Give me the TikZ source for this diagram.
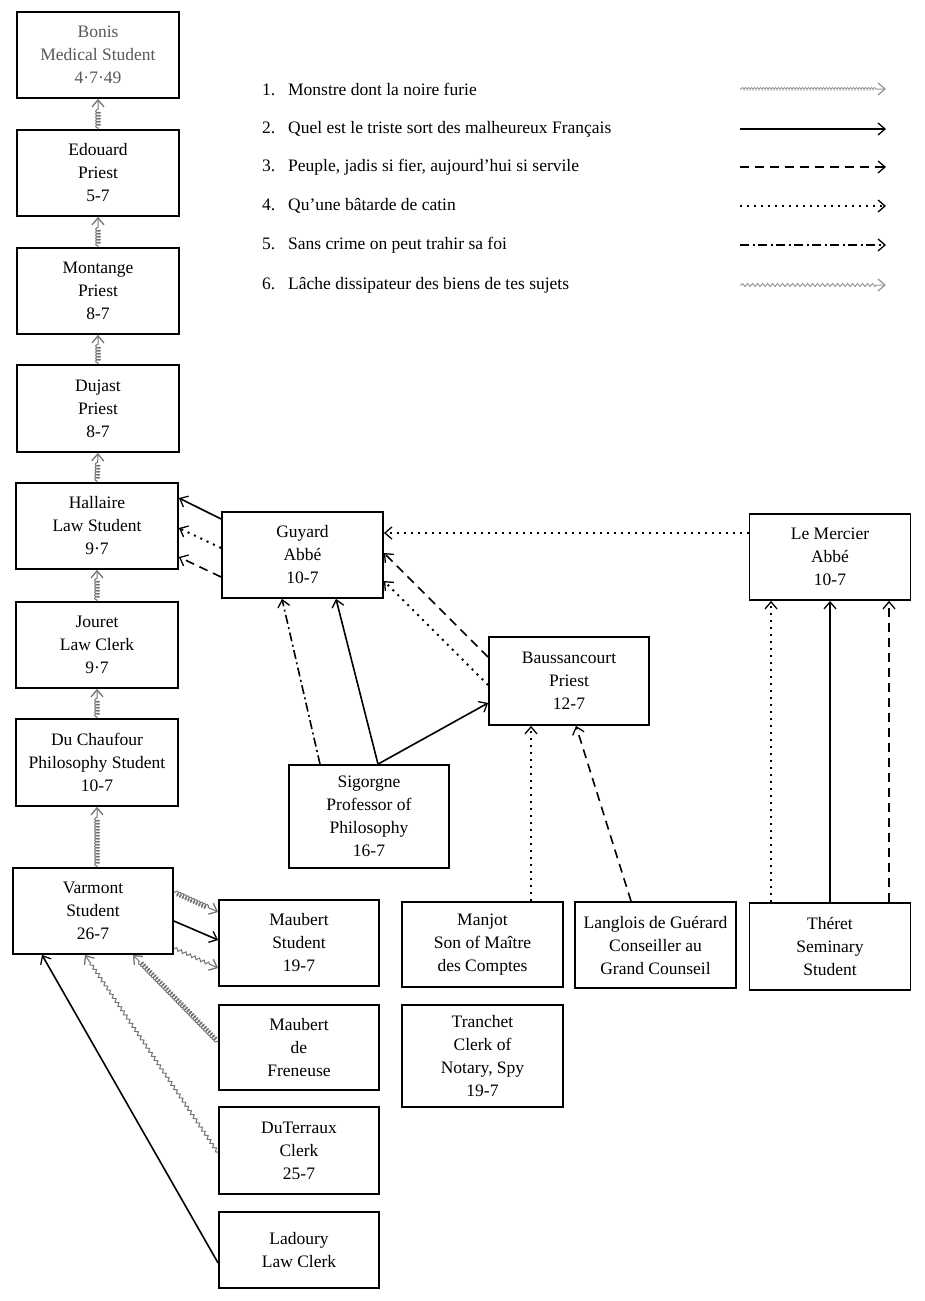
\documentclass[tikz,border=0pt]{standalone}
\usepackage{fontspec}
\setmainfont{Liberation Serif}
\usetikzlibrary{arrows.meta,decorations.pathmorphing,calc}
\begin{document}
\begin{tikzpicture}[x=1pt,y=-1pt,
  box/.style={draw, line width=1.8pt, align=center, inner sep=0pt, font=\fontsize{17.5}{23}\selectfont},
  tip/.style={-{Straight Barb[length=7pt,width=12pt,line width=1.3pt]}},
  t1/.style={draw=black!55, line width=1pt, tip, decorate,
     decoration={coil, aspect=0.5, amplitude=2.3pt, segment length=3pt, pre length=1pt, post length=8pt}},
  t2/.style={draw, line width=1.6pt, tip},
  t3/.style={draw, line width=1.6pt, tip, dash pattern=on 9pt off 6pt},
  t4/.style={draw, line width=2pt, tip, dash pattern=on 2pt off 5pt},
  t5/.style={draw, line width=1.6pt, tip, dash pattern=on 9pt off 3.5pt on 2pt off 3.5pt},
  t6/.style={draw=black!55, line width=1pt, tip, decorate,
     decoration={snake, amplitude=1.5pt, segment length=5pt, pre length=1pt, post length=8pt}},
  leg/.style={anchor=west, inner sep=0pt, font=\fontsize{17.5}{20}\selectfont}
]
\useasboundingbox[fill=white] (0,0) rectangle (924,1301);

% left column
\node[box, minimum width=162, minimum height=86, text=black!65] (bonis) at (98,55) {Bonis\\Medical Student\\4·7·49};
\node[box, minimum width=162, minimum height=86] (edouard) at (98,173) {Edouard\\Priest\\5-7};
\node[box, minimum width=162, minimum height=86] (montange) at (98,291) {Montange\\Priest\\8-7};
\node[box, minimum width=162, minimum height=87] (dujast) at (98,408.5) {Dujast\\Priest\\8-7};
\node[box, minimum width=162, minimum height=86] (hallaire) at (97,526) {Hallaire\\Law Student\\9·7};
\node[box, minimum width=162, minimum height=86] (jouret) at (97,645) {Jouret\\Law Clerk\\9·7};
\node[box, minimum width=162, minimum height=87] (chaufour) at (97,762.5) {Du Chaufour\\Philosophy Student\\10-7};
\node[box, minimum width=160, minimum height=86] (varmont) at (93,911) {Varmont\\Student\\26-7};

% middle
\node[box, minimum width=161, minimum height=86] (guyard) at (302.5,555) {Guyard\\Abbé\\10-7};
\node[box, minimum width=161, minimum height=86] (lemercier) at (830,557) {Le Mercier\\Abbé\\10-7};
\node[box, minimum width=160, minimum height=88] (bauss) at (569,681) {Baussancourt\\Priest\\12-7};
\node[box, minimum width=160, minimum height=103] (sig) at (369,816.5) {Sigorgne\\Professor of\\Philosophy\\16-7};

\node[box, minimum width=160, minimum height=86] (maubert) at (299,943) {Maubert\\Student\\19-7};
\node[box, minimum width=160, minimum height=85] (freneuse) at (299,1047.5) {Maubert\\de\\Freneuse};
\node[box, minimum width=160, minimum height=87] (duterraux) at (299,1150.5) {DuTerraux\\Clerk\\25-7};
\node[box, minimum width=160, minimum height=76] (ladoury) at (299,1250) {Ladoury\\Law Clerk};

\node[box, minimum width=161, minimum height=85] (manjot) at (482.5,944.5) {Manjot\\Son of Maître\\des Comptes};
\node[box, minimum width=161, minimum height=86] (langlois) at (655.5,945) {Langlois de Guérard\\Conseiller au\\Grand Counseil};
\node[box, minimum width=161, minimum height=87] (theret) at (830,946.5) {Théret\\Seminary\\Student};
\node[box, minimum width=161, minimum height=102] (tranchet) at (482.5,1056) {Tranchet\\Clerk of\\Notary, Spy\\19-7};

% left column chain
\draw[t1] (edouard.north) -- (bonis.south);
\draw[t1] (montange.north) -- (edouard.south);
\draw[t1] (dujast.north) -- (montange.south);
\draw[t1] (hallaire.north) -- (dujast.south);
\draw[t1] (jouret.north) -- (hallaire.south);
\draw[t1] (chaufour.north) -- (jouret.south);
\draw[t1] ($(varmont.north)+(4,0)$) -- (chaufour.south);

% Guyard -> Hallaire
\draw[t2] ($(guyard.west)+(0,-36)$) -- ($(hallaire.east)+(0,-28)$);
\draw[t4] ($(guyard.west)+(0,-7)$) -- ($(hallaire.east)+(0,2)$);
\draw[t3] ($(guyard.west)+(0,22)$) -- ($(hallaire.east)+(0,31)$);

% Le Mercier -> Guyard
\draw[t4] ($(lemercier.west)+(0,-24)$) -- ($(guyard.east)+(0,-22)$);

% Baussancourt -> Guyard
\draw[t3] ($(bauss.west)+(0,-24)$) -- ($(guyard.east)+(0,-2)$);
\draw[t4] ($(bauss.west)+(0,4)$) -- ($(guyard.east)+(0,26)$);

% Sigorgne
\draw[t5] ($(sig.north)+(-49,0)$) -- ($(guyard.south)+(-20.5,0)$);
\draw[t2] ($(sig.north)+(9,0)$) -- ($(guyard.south)+(33.5,0)$);
\draw[t2] ($(sig.north)+(9,0)$) -- ($(bauss.west)+(0,22)$);

% Manjot, Langlois -> Baussancourt
\draw[t4] ($(manjot.north)+(48.5,0)$) -- ($(bauss.south)+(-38,0)$);
\draw[t3] ($(langlois.north)+(-24.5,0)$) -- ($(bauss.south)+(7,0)$);

% Theret -> Le Mercier
\draw[t4] ($(theret.north)+(-59,0)$) -- ($(lemercier.south)+(-59,0)$);
\draw[t2] (theret.north) -- (lemercier.south);
\draw[t3] ($(theret.north)+(59,0)$) -- ($(lemercier.south)+(59,0)$);

% Varmont -> Maubert
\draw[t1] ($(varmont.east)+(0,-19)$) -- ($(maubert.west)+(0,-31)$);
\draw[t2] ($(varmont.east)+(0,10)$) -- ($(maubert.west)+(0,-3)$);
\draw[t6] ($(varmont.east)+(0,37)$) -- ($(maubert.west)+(0,25)$);

% others -> Varmont
\draw[t1] ($(freneuse.west)+(0,-5.5)$) -- ($(varmont.south)+(40,0)$);
\draw[t6] ($(duterraux.west)+(0,2.5)$) -- ($(varmont.south)+(-8,0)$);
\draw[t2] ($(ladoury.west)+(0,13)$) -- ($(varmont.south)+(-51,0)$);

% legend
\node[leg] (lg1) at (262,89) {\makebox[26pt][l]{1.}Monstre dont la noire furie};
\node[leg] (lg2) at (262,129) {\makebox[26pt][l]{2.}Quel est le triste sort des malheureux Français};
\node[leg] (lg3) at (262,167) {\makebox[26pt][l]{3.}Peuple, jadis si fier, aujourd'hui si servile};
\node[leg] (lg4) at (262,206) {\makebox[26pt][l]{4.}Qu'une bâtarde de catin};
\node[leg] (lg5) at (262,245) {\makebox[26pt][l]{5.}Sans crime on peut trahir sa foi};
\node[leg] (lg6) at (262,285) {\makebox[26pt][l]{6.}Lâche dissipateur des biens de tes sujets};
\foreach \i/\y in {1/89,2/129,3/167,4/206,5/245,6/285}{
  \coordinate (la\i) at (740,\y);
  \coordinate (lb\i) at (886,\y);
}
\draw[t1, draw=black!40, decoration={coil, aspect=0.5, amplitude=1.5pt, segment length=3pt, pre length=1pt, post length=8pt}] (la1) -- (lb1);
\draw[t2] (la2) -- (lb2);
\draw[t3] (la3) -- (lb3);
\draw[t4] (la4) -- (lb4);
\draw[t5] (la5) -- (lb5);
\draw[t6, draw=black!40] (la6) -- (lb6);
\end{tikzpicture}
\end{document}
